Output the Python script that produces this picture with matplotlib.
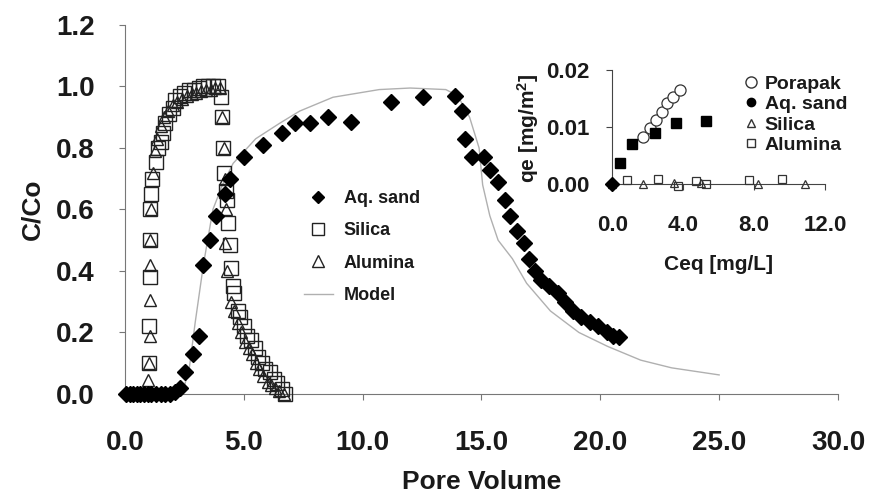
import matplotlib
matplotlib.use("Agg")
import matplotlib.pyplot as plt
from matplotlib.lines import Line2D
from matplotlib.ticker import FormatStrFormatter

plt.rcParams['font.family'] = ['Liberation Sans', 'DejaVu Sans']
plt.rcParams['mathtext.default'] = 'regular'

# Main breakthrough curves (C/Co vs pore volume)
aq_x = [0.05, 0.2, 0.35, 0.5, 0.65, 0.8, 0.95, 1.1, 1.3, 1.5, 1.7, 1.9, 2.1, 2.3,
        2.52, 2.87, 3.1, 3.3, 3.58, 3.83, 4.2, 4.4, 5.0, 5.8, 6.6, 7.15, 7.8, 8.55,
        9.5, 11.2, 12.55, 13.9, 14.2, 14.3, 14.6, 15.1, 15.35, 15.7, 16.0, 16.2,
        16.5, 16.8, 17.0, 17.25, 17.5, 17.85, 18.2, 18.5, 18.85, 19.2, 19.55, 19.9,
        20.3, 20.55, 20.8]
aq_y = [0, 0, 0, 0, 0, 0, 0, 0, 0, 0, 0, 0, 0.005, 0.02,
        0.07, 0.13, 0.19, 0.42, 0.50, 0.58, 0.65, 0.70, 0.77, 0.81, 0.85, 0.88, 0.88, 0.90,
        0.885, 0.95, 0.966, 0.97, 0.92, 0.83, 0.77, 0.77, 0.73, 0.69, 0.63, 0.58,
        0.53, 0.49, 0.44, 0.40, 0.37, 0.35, 0.33, 0.30, 0.27, 0.25, 0.235, 0.22,
        0.20, 0.19, 0.185]

si_x = [1.0, 1.0, 1.05, 1.05, 1.05, 1.1, 1.15, 1.3, 1.4, 1.5, 1.6, 1.7, 1.85, 2.0,
        2.1, 2.3, 2.5, 2.7, 2.9, 3.1, 3.3, 3.5, 3.7, 3.9, 4.05, 4.1, 4.12, 4.15, 4.25,
        4.3, 4.35, 4.4, 4.45, 4.55, 4.6, 4.75, 4.85, 5.0, 5.15, 5.3, 5.45, 5.6, 5.75,
        5.9, 6.1, 6.25, 6.4, 6.6, 6.75]
si_y = [0.1, 0.22, 0.38, 0.5, 0.6, 0.65, 0.7, 0.755, 0.8, 0.82, 0.85, 0.88, 0.91, 0.93,
        0.955, 0.97, 0.98, 0.99, 0.99, 0.995, 1.0, 1.0, 1.0, 1.0, 0.965, 0.9, 0.8, 0.72, 0.66,
        0.63, 0.555, 0.485, 0.41, 0.35, 0.33, 0.27, 0.25, 0.22, 0.19, 0.175, 0.15, 0.12, 0.10,
        0.08, 0.07, 0.05, 0.035, 0.015, 0.0]

al_x = [0.95, 1.0, 1.05, 1.05, 1.05, 1.05, 1.1, 1.2, 1.25, 1.35, 1.5, 1.65, 1.8, 2.0,
        2.2, 2.4, 2.6, 2.8, 3.0, 3.2, 3.4, 3.6, 3.8, 4.0, 4.1, 4.15, 4.2, 4.25, 4.2, 4.3,
        4.45, 4.6, 4.75, 4.9, 5.05, 5.2, 5.35, 5.5, 5.65, 5.8, 6.0, 6.15, 6.3, 6.5, 6.7]
al_y = [0.045, 0.1, 0.19, 0.305, 0.42, 0.5, 0.6, 0.72, 0.79, 0.83, 0.87, 0.9, 0.92, 0.94,
        0.95, 0.96, 0.97, 0.975, 0.98, 0.985, 0.99, 0.99, 0.995, 0.995, 0.9, 0.8, 0.7, 0.6, 0.49, 0.40,
        0.30, 0.27, 0.23, 0.2, 0.17, 0.15, 0.13, 0.1, 0.08, 0.06, 0.04, 0.03, 0.02, 0.01, 0.0]

model_x = [2.4, 2.7, 2.95, 3.3, 3.7, 4.1, 4.55, 5.5, 6.5, 7.35, 8.75, 10.7, 12.0, 13.5,
           14.0, 14.5, 14.9, 15.05, 15.35, 15.7, 16.3, 16.9, 17.9, 19.1, 20.3, 21.7, 23.0, 25.0]
model_y = [0.0, 0.08, 0.23, 0.42, 0.6, 0.68, 0.75, 0.83, 0.88, 0.92, 0.965, 0.99, 0.995, 0.99,
           0.97, 0.9, 0.8, 0.68, 0.58, 0.5, 0.44, 0.36, 0.27, 0.2, 0.155, 0.11, 0.085, 0.062]

# Inset isotherms (qe vs Ceq)
por_x = [1.75, 2.15, 2.5, 2.8, 3.1, 3.45, 3.8]
por_y = [0.0083, 0.0098, 0.0112, 0.0127, 0.0142, 0.0153, 0.0165]
sand_x = [0.45, 1.1, 2.4, 3.6, 5.3]
sand_y = [0.0037, 0.007, 0.009, 0.0107, 0.011]
sand_err = [0.0004, 0.0005, 0.0005, 0.0005, 0.0007]
isil_x = [0.0, 1.75, 3.5, 5.0, 8.2, 10.9]
isil_y = [0.0, 0.0, 0.0002, 0.0001, 0.0, 0.0]
ialu_x = [0.85, 2.6, 3.7, 4.7, 5.3, 7.7, 9.6]
ialu_y = [0.0007, 0.0008, -0.0003, 0.0006, 0.0, 0.0007, 0.0008]

txt = '#1a1a1a'
spine = '#777777'

fig = plt.figure(figsize=(8.77, 5.04), dpi=100)
ax = fig.add_axes([0.1425, 0.2183, 0.813, 0.7321])

ax.plot(model_x, model_y, color='#b0b0b0', lw=1.0, label='Model', zorder=1)
ax.plot(aq_x, aq_y, 'D', ms=8, color='black', ls='none', label='Aq. sand', clip_on=False, zorder=4)
ax.plot(si_x, si_y, 's', ms=10, mfc='none', mec='#222222', mew=1.0, ls='none', label='Silica', clip_on=False, zorder=3)
ax.plot(al_x, al_y, '^', ms=9, mfc='none', mec='#222222', mew=1.0, ls='none', label='Alumina', clip_on=False, zorder=3)

ax.set_xlim(0, 30)
ax.set_ylim(0, 1.2)
ax.set_xticks([0, 5, 10, 15, 20, 25, 30])
ax.set_yticks([0, 0.2, 0.4, 0.6, 0.8, 1.0, 1.2])
ax.xaxis.set_major_formatter(FormatStrFormatter('%.1f'))
ax.yaxis.set_major_formatter(FormatStrFormatter('%.1f'))
for s in ['top', 'right']:
    ax.spines[s].set_visible(False)
for s in ['left', 'bottom']:
    ax.spines[s].set_color(spine)
    ax.spines[s].set_linewidth(0.8)
ax.tick_params(direction='out', length=4, width=0.8, color=spine,
               labelsize=20, labelcolor=txt)
ax.tick_params(axis='x', pad=22)
ax.tick_params(axis='y', pad=18)
for lab in ax.get_xticklabels() + ax.get_yticklabels():
    lab.set_fontweight('bold')
ax.set_xlabel('Pore Volume', fontsize=19, fontweight='bold', color=txt, labelpad=10)
ax.set_ylabel('C/Co', fontsize=19, fontweight='bold', color=txt, labelpad=8)

handles = [
    Line2D([], [], marker='D', ms=6, color='black', ls='none'),
    Line2D([], [], marker='s', ms=8, mfc='none', mec='#222222', ls='none'),
    Line2D([], [], marker='^', ms=8, mfc='none', mec='#222222', ls='none'),
    Line2D([], [], color='#b0b0b0', lw=1.0),
]
leg = ax.legend(handles, ['Aq. sand', 'Silica', 'Alumina', 'Model'],
                loc='upper left', bbox_to_anchor=(0.228, 0.597), frameon=False,
                prop={'size': 13, 'weight': 'bold'}, labelspacing=0.85,
                handlelength=1.6, handletextpad=0.6)
for t in leg.get_texts():
    t.set_color(txt)

# Inset
ins = fig.add_axes([0.698, 0.6236, 0.2427, 0.2432])
ins.errorbar(sand_x, sand_y, yerr=sand_err, fmt='s', ms=7, color='black',
             ecolor='black', elinewidth=0.8, capsize=0, clip_on=False, zorder=4)
ins.plot([0.0], [0.0], 'D', ms=7, color='black', clip_on=False, zorder=5)
ins.plot(por_x, por_y, 'o', ms=8, mfc='white', mec='#333333', mew=0.9, ls='none', zorder=3)
ins.plot(ialu_x, ialu_y, 's', ms=6, mfc='none', mec='#333333', mew=0.9, ls='none', clip_on=False, zorder=3)
ins.plot(isil_x, isil_y, '^', ms=6, mfc='none', mec='#333333', mew=0.9, ls='none', clip_on=False, zorder=3)

ins.set_xlim(0, 12)
ins.set_ylim(-0.001, 0.0205)
ins.set_xticks([0, 4, 8, 12])
ins.set_yticks([0, 0.01, 0.02])
ins.xaxis.set_major_formatter(FormatStrFormatter('%.1f'))
ins.yaxis.set_major_formatter(FormatStrFormatter('%.2f'))
ins.patch.set_alpha(0)
for s in ['top', 'right']:
    ins.spines[s].set_visible(False)
ins.spines['bottom'].set_position(('data', 0))
ins.spines['left'].set_bounds(0, 0.02)
for s in ['left', 'bottom']:
    ins.spines[s].set_color('#444444')
    ins.spines[s].set_linewidth(0.8)
ins.tick_params(direction='out', length=4, width=0.8, color='#444444',
                labelsize=16, labelcolor=txt)
ins.tick_params(axis='x', pad=18)
ins.tick_params(axis='y', pad=12)
for lab in ins.get_xticklabels() + ins.get_yticklabels():
    lab.set_fontweight('bold')
ins.set_xlabel('Ceq [mg/L]', fontsize=15, fontweight='bold', color=txt, labelpad=14)
ins.set_ylabel('qe [mg/m$^2$]', fontsize=15, fontweight='bold', color=txt, labelpad=4)

ihandles = [
    Line2D([], [], marker='o', ms=8, mfc='white', mec='#333333', ls='none'),
    Line2D([], [], marker='o', ms=6, color='black', ls='none'),
    Line2D([], [], marker='^', ms=6, mfc='none', mec='#333333', ls='none'),
    Line2D([], [], marker='s', ms=6, mfc='none', mec='#333333', ls='none'),
]
ileg = ins.legend(ihandles, ['Porapak', 'Aq. sand', 'Silica', 'Alumina'],
                  loc='upper left', bbox_to_anchor=(0.58, 1.0), frameon=False,
                  prop={'size': 14, 'weight': 'bold'}, labelspacing=0.15,
                  handlelength=0.8, handletextpad=0.3, borderaxespad=0)
for t in ileg.get_texts():
    t.set_color(txt)

fig.savefig('out.png', dpi=100)
